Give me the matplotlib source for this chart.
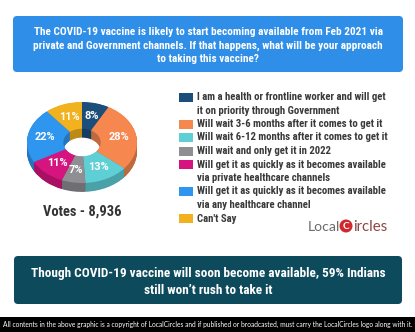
import numpy as np
import matplotlib
matplotlib.use("Agg")
import matplotlib.pyplot as plt
from matplotlib.patches import FancyBboxPatch, Rectangle, Circle
from matplotlib import font_manager as fm
import matplotlib.colors as mcolors

# ---------------- data ----------------
categories = [
    "I am a health or frontline worker and will get\nit on priority through Government",
    "Will wait 3-6 months after it comes to get it",
    "Will wait 6-12 months after it comes to get it",
    "Will wait and only get it in 2022",
    "Will get it as quickly as it becomes available\nvia private healthcare channels",
    "Will get it as quickly as it becomes available\nvia any healthcare channel",
    "Can't Say",
]
values = [8, 28, 13, 7, 11, 22, 11]
colors = ["#1B4E7B", "#F5874F", "#5FCFD6", "#8E8E93", "#D6147F", "#2E96EE", "#F2B11F"]
question = ["The COVID-19 vaccine is likely to start becoming available from Feb 2021 via",
            "private and Government channels. If that happens, what will be your approach",
            "to taking this vaccine?"]
headline = ["Though COVID-19 vaccine will soon become available, 59% Indians",
            "still won\u2019t rush to take it"]
votes_label = "Votes - 8,936"
footer = ("All contents in the above graphic is a copyright of LocalCircles and if published or broadcasted, "
          "must carry the LocalCircles logo along with it.")

# ---------------- fonts ----------------
def find_condensed_bold():
    tl = fm.fontManager.ttflist
    for f in tl:
        if f.name == "Roboto Condensed" and f.weight in (700, "bold"):
            return f.fname
    for f in tl:
        if f.name == "DejaVu Sans" and f.stretch == "condensed" and f.weight in (700, "bold"):
            return f.fname
    for f in tl:
        if f.name == "Liberation Sans Narrow" and f.weight in (700, "bold"):
            return f.fname
    return None

_cb = find_condensed_bold()

def bold(px):
    size = px * 0.72
    if _cb:
        return fm.FontProperties(fname=_cb, size=size)
    return fm.FontProperties(family="Roboto", weight="bold", size=size)

PT = 0.72  # px -> pt at dpi 100

fig = plt.figure(figsize=(4.15, 3.32), dpi=100)
fig.patch.set_facecolor("white")
bg = fig.add_axes([0, 0, 1, 1])
bg.set_xlim(0, 415)
bg.set_ylim(332, 0)
bg.axis("off")

# top question box
bg.add_patch(FancyBboxPatch((13, 16), 390, 56, boxstyle="round,pad=0,rounding_size=4",
                            fc="#2F8EE7", ec="none"))
for i, line in enumerate(question):
    bg.text(208, 32 + 13.5 * i, line, ha="center", va="center", color="white",
            fontproperties=bold(11.3))

# ---------------- donut (pseudo 3D) ----------------
cx, cy, rx, ry = 82, 142.5, 55, 40.5
pax = fig.add_axes([(cx - 1.1 * rx) / 415, (332 - (cy + 1.4 * ry)) / 332,
                    2.2 * rx / 415, 2.5 * ry / 332])
dark = [tuple(np.array(mcolors.to_rgb(c)) * 0.78) for c in colors]
for off in np.linspace(0.22, 0.01, 14):
    pax.pie(values, colors=dark, startangle=90, counterclock=False, center=(0, -off),
            wedgeprops=dict(width=0.66, linewidth=0))
wedges, texts, autotexts = pax.pie(
    values, colors=colors, startangle=90, counterclock=False,
    wedgeprops=dict(width=0.66, linewidth=0),
    autopct=lambda p: f"{p:.0f}%", pctdistance=0.68)
for t in autotexts:
    t.set_color("white")
    t.set_fontproperties(fm.FontProperties(family="Roboto", weight="bold", size=11 * PT))
pax.set_aspect("auto")
pax.set_xlim(-1.1, 1.1)
pax.set_ylim(-1.4, 1.1)
pax.axis("off")

bg.text(82.5, 212, votes_label, ha="center", va="center", color="#333333",
        fontproperties=bold(14.5))

# ---------------- legend ----------------
y = 97
for lab, col in zip(categories, colors):
    lines = lab.split("\n")
    bg.add_patch(Rectangle((179, y - 4.5), 14, 9, fc=col, ec="none"))
    for ln in lines:
        bg.text(197, y, ln, ha="left", va="center", color="#3a3a3a", fontproperties=bold(10.8))
        y += 13.5

# ---------------- logo ----------------
bg.text(308, 227, "Local", ha="left", va="center", color="#6b6b6b",
        fontfamily="Lato", fontsize=14 * PT)
bg.add_patch(Circle((346, 226), 6.5, fc="#D0272E", ec="none"))
bg.text(346, 226.5, "C", ha="center", va="center", color="white",
        fontfamily="Lato", fontweight="bold", fontsize=10 * PT)
bg.text(353, 227, "ircles", ha="left", va="center", color="#8C4444",
        fontfamily="Lato", fontsize=15 * PT)

# ---------------- headline box ----------------
bg.add_patch(FancyBboxPatch((14, 256), 388, 48, boxstyle="round,pad=0,rounding_size=4",
                            fc="#0D4A5C", ec="none"))
for i, line in enumerate(headline):
    bg.text(208, 273 + 17 * i, line, ha="center", va="center", color="white",
            fontproperties=bold(13.3))

# ---------------- footer ----------------
bg.add_patch(Rectangle((0, 317), 415, 15, fc="black", ec="none"))
bg.text(207.5, 324.5, footer, ha="center", va="center", color="white",
        fontfamily="Lato", fontsize=6.6 * PT)

fig.savefig("out.png", dpi=100, facecolor="white")
